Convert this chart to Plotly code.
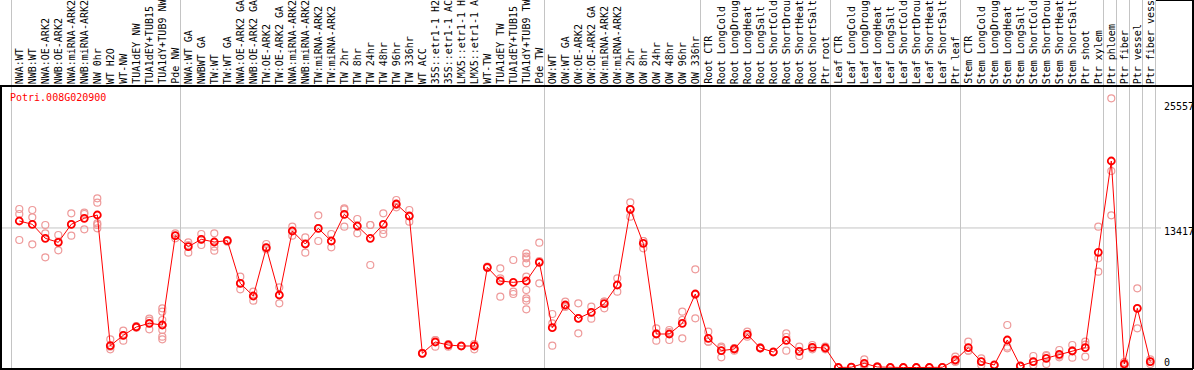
import plotly.graph_objects as go

# ---------------- data ----------------
categories = [
    "NWA:WT", "NWB:WT", "NWA:OE-ARK2", "NWB:OE-ARK2", "NWA:miRNA-ARK2", "NWB:miRNA-ARK2",
    "NW 0hr", "WT H2O", "WT-NW", "TUA1dEY NW", "TUA1dEY+TUB15", "TUA1dY+TUB9 NW", "Pde NW",
    "NWA:WT GA", "NWBWT GA", "TW:WT", "TW:WT GA", "NWA:OE-ARK2 GA", "NWB:OE-ARK2 GA",
    "TW:OE-ARK2", "TW:OE-ARK2 GA", "NWA:miRNA-ARK2", "NWB:miRNA-ARK2", "TW:miRNA-ARK2",
    "TW:miRNA-ARK2", "TW 2hr", "TW 8hr", "TW 24hr", "TW 48hr", "TW 96hr", "TW 336hr",
    "WT ACC", "35S::etr1-1 H2", "35S::etr1-1 AC", "LMX5::etr1-1 H", "LMX5::etr1-1 A",
    "WT-TW", "TUA1dEY TW", "TUA1dEY+TUB15", "TUA1dY+TUB9 TW", "Pde TW",
    "OW:WT", "OW:WT GA", "OW:OE-ARK2", "OW:OE-ARK2 GA", "OW:miRNA-ARK2", "OW:miRNA-ARK2",
    "OW 2hr", "OW 8hr", "OW 24hr", "OW 48hr", "OW 96hr", "OW 336hr",
    "Root CTR", "Root LongCold", "Root LongDroug", "Root LongHeat", "Root LongSalt",
    "Root ShortCold", "Root ShortDrou", "Root ShortHeat", "Root ShortSalt", "Ptr root",
    "Leaf CTR", "Leaf LongCold", "Leaf LongDroug", "Leaf LongHeat", "Leaf LongSalt",
    "Leaf ShortCold", "Leaf ShortDrou", "Leaf ShortHeat", "Leaf ShortSalt", "Ptr leaf",
    "Stem CTR", "Stem LongCold", "Stem LongDroug", "Stem LongHeat", "Stem LongSalt",
    "Stem ShortCold", "Stem ShortDrou", "Stem ShortHeat", "Stem ShortSalt", "Ptr shoot",
    "Ptr xylem", "Ptr phloem", "Ptr fiber", "Ptr vessel", "Ptr fiber vess",
]

mean_values = [
    14087, 13769, 12420, 12035, 13769, 14346, 14663, 2096, 3093, 3894, 4250, 4087, 12676,
    11619, 12324, 12067, 12196, 8093, 6875, 11522, 6971, 13125, 11875, 13381, 12163,
    14728, 13606, 12420, 13769, 15721, 14567, 1362, 2452, 2163, 2067, 2067, 9631, 8317,
    8189, 8317, 10112, 3830, 6010, 4728, 5304, 6138, 7933, 15208, 11939, 3221, 3221,
    4247, 7067, 2804, 1619, 1779, 3189, 1875, 1490, 2612, 1554, 1939, 1875, 0, 30, 400,
    50, 0, 0, 0, 0, 20, 721, 1907, 561, 240, 2644, 144, 561, 881, 1266, 1587, 1907,
    11074, 19856, 337, 5689, 561,
]

replicate_values = [
    [15240, 14760, 12260], [15144, 14439, 11843], [13702, 12901, 10593], [12740, 12099, 11266],
    [14824, 13766, 12676], [14888, 14760, 13285], [16266, 15849, 13862, 13702, 13381],
    [2708, 2003, 1747], [3541, 3093, 2580], [3990, 3830], [4696, 4503, 3670],
    [5689, 5369, 4567, 4087, 3606, 2965, 2708], [12901, 12676, 12420],
    [12035, 11779, 11042], [12837, 12324, 11779], [12901, 11619, 11234], [12260, 12099, 12196],
    [8734, 8093, 7516], [7292, 6875, 6426], [11875, 11522, 11362], [7708, 6971, 6170],
    [13542, 13125, 12676], [12516, 11875, 11042], [14631, 13381, 12163], [12837, 12163, 11555],
    [15304, 15208, 13542], [14279, 13606, 12901], [13702, 13702, 9856], [14824, 13221, 12837],
    [16106, 15625, 15401], [15144, 14567, 14022], [1400, 1362, 1330], [2644, 2644, 2003],
    [2260, 2163, 2000], [2067, 2067, 2067], [2260, 2067, 1747], [9700, 9631, 9560],
    [9535, 8574, 6811], [10337, 7292, 7067],
    [10978, 10657, 10497, 10016, 8734, 7452, 6651, 6426, 5593], [12003, 10240, 8093],
    [5144, 4247, 2099], [6330, 5849, 5849], [6170, 4728, 3285],
    [5849, 5304, 4696], [6330, 6330, 5689], [8574, 7933, 7292], [15881, 15208, 14503],
    [12163, 12163, 11458], [3766, 3285, 2580], [3606, 3413, 2644], [5369, 4567, 2804],
    [9439, 7002, 4728], [3445, 2484, 2484], [2003, 1876, 978], [1875, 1843, 1619],
    [3445, 3157, 2965], [1939, 1843, 1843], [1490, 1490, 1490], [3285, 2932, 1619],
    [2003, 1553, 1106], [2163, 1907, 1747], [2003, 1875, 1747], [0, 0, 0], [0, 50, 0],
    [785, 271, 144], [80, 80, 80], [0, 0, 0], [0, 0, 0], [0, 0, 0], [0, 0, 0], [0, 20, 0],
    [1042, 561, 561], [2484, 1619, 1619], [881, 561, 240], [240, 240, 240],
    [4087, 2003, 1843], [144, 144, 144], [1106, 561, 240], [1202, 1106, 337],
    [1683, 1138, 978], [2163, 1652, 946], [2484, 2195, 1042], [13542, 10497, 9215],
    [25881, 18894, 14631], [530, 337, 144], [7612, 5689, 3766], [785, 561, 337],
]

y_ticks = [25557, 13417, 0]
gene_name = "Potri.008G020900"
# index of the first category after each vertical separator
group_starts = [0, 13, 41, 53, 63, 73, 84, 85, 86, 87, 88]

# ---------------- styling / layout ----------------
W, H = 1194, 370
M_L, M_R, M_T, M_B = 1, 1, 86, 1
plot_w = W - M_L - M_R
plot_h = H - M_T - M_B
X0_PX, DX_PX = 19.3, 13.0          # centre of first category, spacing (px)
Y0_PX, KY = 367.5, 0.0104          # pixel row of value 0, px per unit

x_range = [(M_L - X0_PX) / DX_PX, (W - M_R - X0_PX) / DX_PX]
y_range = [(Y0_PX - (H - M_B)) / KY, (Y0_PX - M_T) / KY]

def ypaper(px):
    return (H - M_B - px) / plot_h

def xpaper(px):
    return (px - M_L) / plot_w

MONO = "DejaVu Sans Mono"
GRID = "#c4c4c4"

rep_x, rep_y = [], []
for i, reps in enumerate(replicate_values):
    for v in reps:
        rep_x.append(i)
        rep_y.append(v)

fig = go.Figure()
fig.add_trace(go.Scatter(
    x=rep_x, y=rep_y, mode="markers",
    marker=dict(symbol="circle-open", size=7, color="#ee9a9a", line=dict(width=1.2, color="#ee9a9a")),
    hoverinfo="skip", showlegend=False,
))
fig.add_trace(go.Scatter(
    x=list(range(len(mean_values))), y=mean_values, mode="lines+markers",
    line=dict(color="#ff0000", width=1),
    marker=dict(symbol="circle-open", size=7, color="#ff0000", line=dict(width=1.8, color="#ff0000")),
    showlegend=False,
))

shapes = []
for b in group_starts:
    shapes.append(dict(type="line", xref="x", yref="paper", x0=b - 0.6, x1=b - 0.6,
                       y0=0, y1=ypaper(0), line=dict(color=GRID, width=1), layer="below"))
# 13417 gridline
shapes.append(dict(type="line", xref="paper", yref="y", x0=0, x1=xpaper(1161),
                   y0=y_ticks[1], y1=y_ticks[1], line=dict(color=GRID, width=1), layer="below"))
# frame
blk = dict(color="black", width=2)
shapes += [
    dict(type="line", xref="paper", yref="paper", x0=0, x1=0, y0=0, y1=1, line=blk),
    dict(type="line", xref="paper", yref="paper", x0=-0.002, x1=1, y0=0, y1=0, line=blk),
    dict(type="line", xref="paper", yref="paper", x0=-0.002, x1=1, y0=1, y1=1, line=blk),
    dict(type="line", xref="paper", yref="paper", x0=1, x1=1, y0=0, y1=ypaper(0), line=blk),
    dict(type="line", xref="paper", yref="paper", x0=xpaper(1156), x1=1, y0=ypaper(0), y1=ypaper(0), line=blk),
]

annotations = []
for i, lab in enumerate(categories):
    annotations.append(dict(
        x=i, xref="x", y=1, yref="paper", yanchor="bottom", xanchor="center",
        yshift=1, text=lab, textangle=-90, showarrow=False, borderpad=0,
        font=dict(family=MONO, size=10, color="black"),
    ))
tick_shift = {25557: -5, 13417: -4, 0: 5}
for v in y_ticks:
    annotations.append(dict(
        x=xpaper(1163), xref="paper", y=v, yref="y", xanchor="left", yanchor="middle",
        yshift=tick_shift[v], text=str(v), showarrow=False, borderpad=0,
        font=dict(family=MONO, size=10, color="black"),
    ))
annotations.append(dict(
    x=xpaper(9), xref="paper", y=1, yref="paper", xanchor="left", yanchor="middle",
    yshift=-11, text=gene_name, showarrow=False, borderpad=0,
    font=dict(family=MONO, size=10, color="#ff0000"),
))

fig.update_layout(
    width=W, height=H,
    margin=dict(l=M_L, r=M_R, t=M_T, b=M_B, pad=0),
    paper_bgcolor="white", plot_bgcolor="white",
    xaxis=dict(range=x_range, visible=False, fixedrange=True),
    yaxis=dict(range=y_range, visible=False, fixedrange=True),
    shapes=shapes, annotations=annotations,
    showlegend=False,
)

fig.write_html(
    "out.html",
    config={"displayModeBar": False},
    post_script="document.body.style.margin='0';document.body.style.overflow='hidden';",
)
